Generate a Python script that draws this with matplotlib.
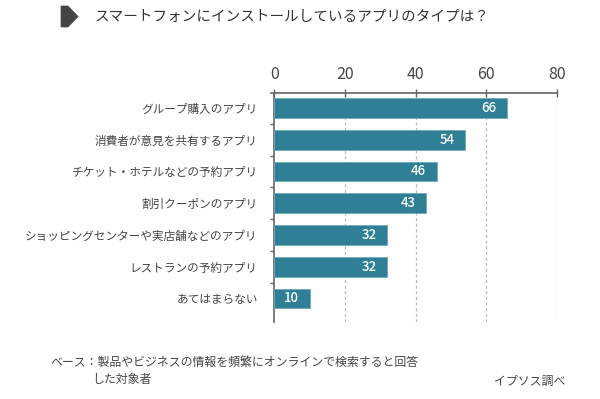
import matplotlib
matplotlib.use("Agg")
import matplotlib.pyplot as plt
from matplotlib.patches import Polygon

plt.rcParams['font.family'] = ['Noto Sans CJK JP', 'DejaVu Sans']

categories = [
    "グループ購入のアプリ",
    "消費者が意見を共有するアプリ",
    "チケット・ホテルなどの予約アプリ",
    "割引クーポンのアプリ",
    "ショッピングセンターや実店舗などのアプリ",
    "レストランの予約アプリ",
    "あてはまらない",
]
values = [66, 54, 46, 43, 32, 32, 10]
xticks = [0, 20, 40, 60, 80]

W, H = 600, 399
fig = plt.figure(figsize=(6.0, 3.99), dpi=100)
fig.patch.set_facecolor('white')

def fx(px):
    return px / W

def fy(py):
    return 1 - py / H

left, right, top, bottom = 274.3, 556.7, 93, 322
ax = fig.add_axes([fx(left), fy(bottom), fx(right) - fx(left), fy(top) - fy(bottom)])

bar_color = '#2f7f97'
ypos = list(range(len(categories)))
ax.barh(ypos, values, height=0.62, color=bar_color, edgecolor='#6fa8b9', linewidth=0.6, zorder=3)

for y, v in zip(ypos, values):
    ax.text(v - 3.0, y, str(v), ha='right', va='center', color='white',
            fontsize=9.5, fontweight='medium', zorder=4)

ax.set_xlim(0, 80)
ax.set_ylim(6.74, -0.47)

# axis on top
ax.xaxis.set_ticks_position('top')
ax.xaxis.set_label_position('top')
ax.set_xticks(xticks)
ax.set_xticklabels([str(t) for t in xticks], fontsize=11.5, color='#444444')
ax.tick_params(axis='x', direction='inout', length=6, width=1.0, color='#666666', pad=4)

# y ticks at category boundaries, labels at centers
ax.set_yticks([i + 0.5 for i in range(len(categories) - 1)])
ax.set_yticklabels([])
ax.tick_params(axis='y', which='major', direction='out', length=3, width=1.0, color='#666666')
ax.set_yticks(ypos, minor=True)
ax.set_yticklabels(categories, minor=True, fontsize=8.4, color='#444444')
ax.tick_params(axis='y', which='minor', length=0, pad=12)

for s in ['right', 'bottom']:
    ax.spines[s].set_visible(False)
ax.spines['top'].set_color('#666666')
ax.spines['top'].set_linewidth(1.2)
ax.spines['top'].set_bounds(-0.9, 80)
ax.spines['left'].set_color('#666666')
ax.spines['left'].set_linewidth(1.2)

for t in xticks[1:]:
    ax.axvline(t, color='#bbbbbb', linestyle=(0, (2.5, 2)), linewidth=0.9, zorder=1)

# title icon
pts = [(61, 6), (68, 6), (78, 16.5), (68, 27), (61, 27)]
icon = Polygon([(fx(x), fy(y)) for x, y in pts], closed=True, transform=fig.transFigure,
               facecolor='#444444', edgecolor='#444444', linewidth=0.5)
fig.patches.append(icon)

fig.text(fx(95), fy(17), "スマートフォンにインストールしているアプリのタイプは？",
         ha='left', va='center', fontsize=10.5, color='#333333')

fig.text(fx(50), fy(362), "ベース：製品やビジネスの情報を頻繁にオンラインで検索すると回答",
         ha='left', va='center', fontsize=8.6, color='#444444')
fig.text(fx(92), fy(380), "した対象者",
         ha='left', va='center', fontsize=8.6, color='#444444')
fig.text(fx(565), fy(381), "イプソス調べ",
         ha='right', va='center', fontsize=8.6, color='#444444')

fig.savefig('out.png', dpi=100, facecolor='white')
